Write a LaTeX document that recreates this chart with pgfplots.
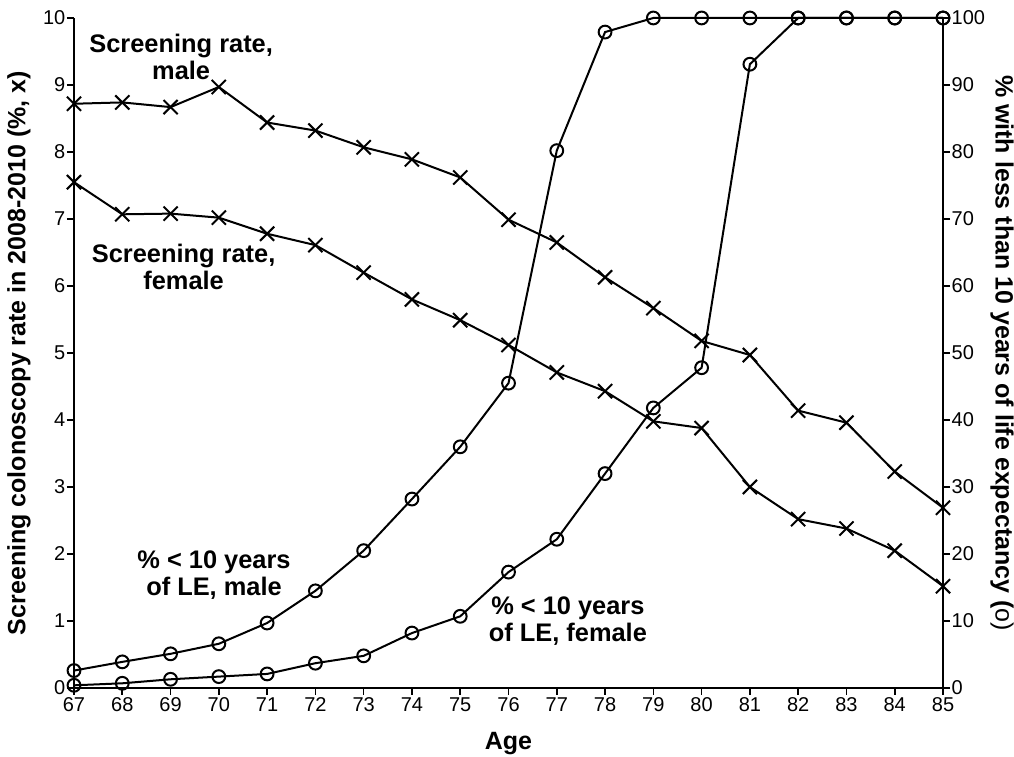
\documentclass[border=0pt]{standalone}
\usepackage{fontspec}
\setmainfont{Liberation Sans}
\usepackage{pgfplots}
\pgfplotsset{compat=1.18}
\newcommand{\tfont}{\fontsize{20}{23}\selectfont}
\begin{document}
\begin{tikzpicture}
\tikzset{annot/.style={align=center, font=\bfseries\fontsize{25.4}{27}\selectfont}}
\pgfplotsset{
  every axis/.append style={
    width=869pt, height=670pt, scale only axis,
    xmin=67, xmax=85,
    tick align=outside, major tick length=7pt,
    label style={font=\bfseries\fontsize{25}{30}\selectfont},
    /pgf/number format/assume math mode=true,
    axis line style={line width=2pt},
    every tick/.style={line width=1.6pt, black},
    clip=false,
  },
  ser/.style={black, line width=2pt},
}
\begin{axis}[
  axis x line*=bottom, axis y line*=left,
  ymin=0, ymax=10, ytick={0,1,...,10}, xtick={67,68,...,85},
  yticklabel style={font=\tfont, inner xsep=1.5pt},
  xticklabel style={font=\tfont, inner ysep=2.5pt},
  xlabel={Age}, ylabel={Screening colonoscopy rate in 2008-2010 (\%, x)},
  xlabel style={at={(axis description cs:0.5,-0.0925)}, anchor=base},
  ylabel style={at={(axis description cs:-0.0633,0.5)}, anchor=center},
]
% Screening rate, male
\addplot[ser, mark=x, mark size=10pt] coordinates {
(67,8.72) (68,8.74) (69,8.67) (70,8.97) (71,8.44) (72,8.32) (73,8.07) (74,7.89)
(75,7.62) (76,6.99) (77,6.65) (78,6.13) (79,5.67) (80,5.18) (81,4.97) (82,4.14)
(83,3.96) (84,3.23) (85,2.69)};
% Screening rate, female
\addplot[ser, mark=x, mark size=10pt] coordinates {
(67,7.55) (68,7.07) (69,7.08) (70,7.02) (71,6.78) (72,6.61) (73,6.20) (74,5.80)
(75,5.49) (76,5.12) (77,4.71) (78,4.43) (79,3.98) (80,3.88) (81,3.00) (82,2.52)
(83,2.38) (84,2.05) (85,1.52)};
\node[annot] at (axis cs:69.22,9.42) {Screening rate,\\male};
\node[annot] at (axis cs:69.27,6.28) {Screening rate,\\female};
\node[annot] at (axis cs:69.9,1.69) {\% < 10 years\\of LE, male};
\node[annot] at (axis cs:77.23,1.0) {\% < 10 years\\of LE, female};
\coordinate (sw) at (rel axis cs:0,0);
\coordinate (ne) at (rel axis cs:1,1);
\end{axis}
\begin{axis}[
  axis x line=none, axis y line*=right,
  ymin=0, ymax=100, ytick={0,10,...,100},
  yticklabel style={font=\tfont, inner xsep=1.5pt},
  ylabel={\% with less than 10 years of life expectancy (\mdseries o)},
  ylabel style={at={(axis description cs:1.0679,0.5)}, anchor=center, rotate=180},
]
% % < 10 years LE, male
\addplot[ser, mark=o, mark size=6.4pt] coordinates {
(67,2.6) (68,3.9) (69,5.1) (70,6.6) (71,9.7) (72,14.5) (73,20.5) (74,28.2)
(75,36.0) (76,45.5) (77,80.2) (78,97.9) (79,100) (80,100) (81,100) (82,100)
(83,100) (84,100) (85,100)};
% % < 10 years LE, female
\addplot[ser, mark=o, mark size=6.4pt] coordinates {
(67,0.4) (68,0.7) (69,1.3) (70,1.7) (71,2.1) (72,3.7) (73,4.8) (74,8.2)
(75,10.7) (76,17.3) (77,22.2) (78,32.0) (79,41.8) (80,47.8) (81,93.1) (82,100)
(83,100) (84,100) (85,100)};
\end{axis}
\pgfresetboundingbox
\path ([shift={(-74pt,-69pt)}]sw) rectangle ([shift={(71pt,18pt)}]ne);
\end{tikzpicture}
\end{document}
